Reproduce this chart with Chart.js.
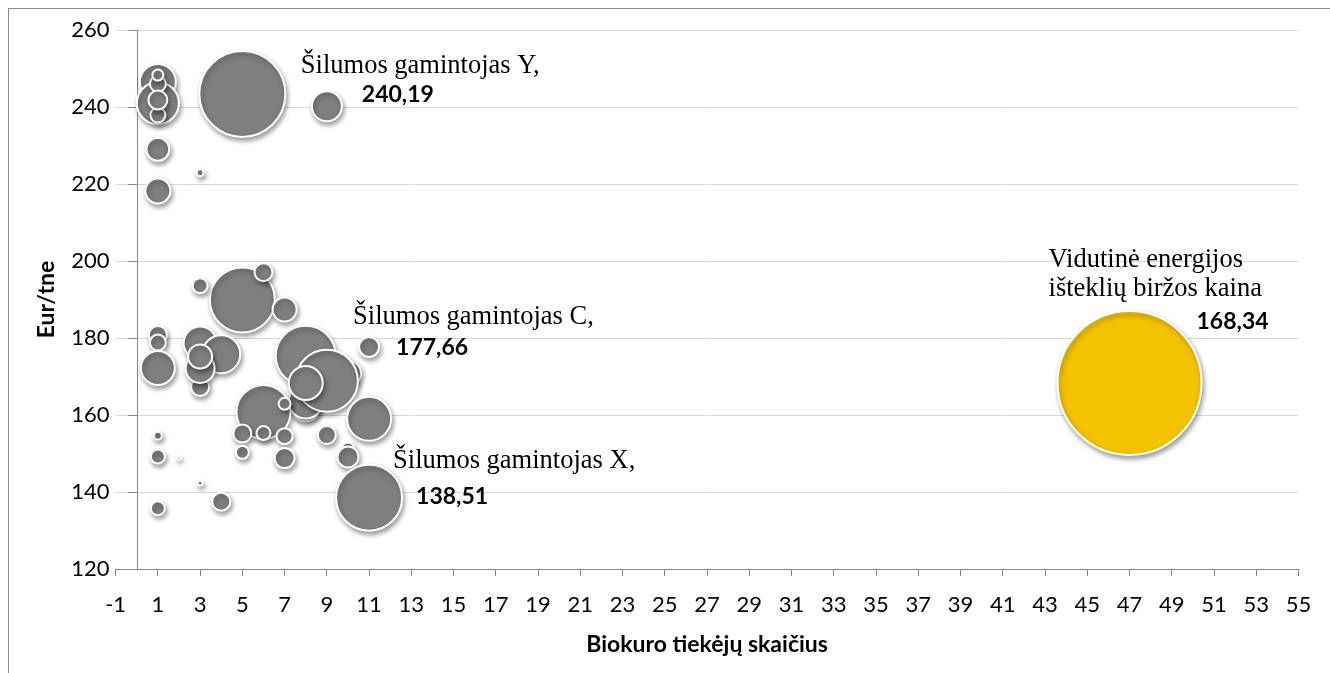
<!DOCTYPE html>
<html><head><meta charset="utf-8">
<script src="https://cdn.jsdelivr.net/npm/chart.js@4.4.1/dist/chart.umd.min.js"></script>
<style>
html,body{margin:0;padding:0;background:#fff;overflow:hidden;}
#wrap{position:relative;width:1330px;height:673px;overflow:hidden;}
#frame{position:absolute;left:8px;top:8px;width:1400px;height:800px;border:1px solid #8c8c8c;}
canvas{position:absolute;left:0;top:0;}
</style></head><body>
<div id="wrap"><div id="frame"></div><canvas id="c" width="1330" height="673"></canvas></div>
<script>
// ---- data ----
const supplierCounts = [1,1,1,1,1,1,1,1,3,5,9,5,6,3,7,1,1,1,3,4,3,3,3,10,8,8,8,9,8,6,7,11,11,5,6,7,9,5,7,10,10,1,1,2,3,4,1,11];
const pricesEurPerTonne = [246.5,241.0,246.0,248.3,237.9,241.8,229.0,218.2,222.9,243.4,240.19,189.9,197.1,193.6,187.4,180.8,178.8,172.2,178.7,175.8,167.3,172.1,175.2,170.8,175.4,162.0,163.5,168.9,168.3,160.8,162.9,159.0,177.66,155.2,155.3,154.5,154.8,150.3,148.8,151.2,149.1,154.6,149.2,148.8,142.3,137.5,135.8,138.51];
const purchaseVolumes = [32.4,44.1,6.4,3.0,5.6,9.0,13.2,15.6,1.2,184.9,22.5,105.6,8.1,5.6,14.4,8.1,6.4,28.9,27.2,36.1,8.1,21.0,14.4,16.9,90.0,19.6,28.9,96.1,28.9,72.9,3.6,48.4,10.0,8.1,4.9,6.4,8.1,4.2,10.0,4.2,11.0,1.6,4.9,0.3,0.6,8.1,4.9,108.9];
const exchangeCount = [47];
const exchangePrice = [168.34];
const exchangeVolume = [518.4];
const xMin = -1, xMax = 55, xStep = 2;
const yMin = 120, yMax = 260, yStep = 20;
const yAxisCrossesAt = 0;
const labelY = { index: 10, name: ["Šilumos gamintojas Y,"] };
const labelC = { index: 32, name: ["Šilumos gamintojas C,"] };
const labelX = { index: 47, name: ["Šilumos gamintojas X,"] };
const labelExchange = { name: ["Vidutinė energijos", "išteklių biržos kaina"] };
const xTitle = "Biokuro tiekėjų skaičius";
const yTitle = "Eur/tne";

// ---- chart ----
const MAX_R = 72;
const maxVol = Math.max(...exchangeVolume, ...purchaseVolumes);
const toRadius = v => MAX_R * Math.sqrt(v / maxVol);

const grayData = supplierCounts.map((x, i) => ({x, y: pricesEurPerTonne[i], r: toRadius(purchaseVolumes[i])}));
const yellowData = exchangeCount.map((x, i) => ({x, y: exchangePrice[i], r: toRadius(exchangeVolume[i])}));

const SANS = "Lato, 'Open Sans', sans-serif";
const SERIF = "'Liberation Serif', 'DejaVu Serif', serif";
const AXIS_COLOR = '#868686';

const shadowPlugin = {
  id: 'shadow',
  beforeDatasetsDraw(chart) {
    const ctx = chart.ctx;
    ctx.save();
    ctx.shadowColor = 'rgba(0,0,0,0.38)';
    ctx.shadowBlur = 5;
    ctx.shadowOffsetX = 1.5;
    ctx.shadowOffsetY = 3;
  },
  afterDatasetsDraw(chart) { chart.ctx.restore(); }
};

// vertical axis line crossing the horizontal axis at x = 0, with outside tick marks
const crossAxisPlugin = {
  id: 'crossAxis',
  beforeDatasetsDraw(chart) {
    const ctx = chart.ctx, xs = chart.scales.x, ys = chart.scales.y, ca = chart.chartArea;
    const px = Math.round(xs.getPixelForValue(yAxisCrossesAt)) + 0.5;
    ctx.save();
    ctx.strokeStyle = AXIS_COLOR;
    ctx.lineWidth = 1;
    ctx.beginPath();
    ctx.moveTo(px, ca.top);
    ctx.lineTo(px, ca.bottom);
    ys.ticks.forEach(t => {
      const py = Math.round(ys.getPixelForValue(t.value)) + 0.5;
      ctx.moveTo(px - 9, py);
      ctx.lineTo(px, py);
    });
    ctx.stroke();
    ctx.restore();
  }
};

const fmt = v => v.toFixed(2).replace('.', ',');

const labelPlugin = {
  id: 'pointLabels',
  afterDraw(chart) {
    const ctx = chart.ctx;
    const gray = chart.getDatasetMeta(0).data;
    const yel = chart.getDatasetMeta(1).data;
    const specs = [
      {el: gray[labelY.index], names: labelY.name, value: pricesEurPerTonne[labelY.index], nx: -26, ny: [-33], vx: 35, vy: -11.5},
      {el: gray[labelC.index], names: labelC.name, value: pricesEurPerTonne[labelC.index], nx: -16, ny: [-23.5], vx: 27, vy: 1},
      {el: gray[labelX.index], names: labelX.name, value: pricesEurPerTonne[labelX.index], nx: 24, ny: [-29.5], vx: 47, vy: -1},
      {el: yel[0], names: labelExchange.name, value: exchangePrice[0], nx: -81, ny: [-116, -87.3], vx: 67, vy: -61}
    ];
    ctx.save();
    ctx.fillStyle = '#000';
    ctx.textAlign = 'left';
    specs.forEach(s => {
      ctx.font = "26.5px " + SERIF;
      ctx.textBaseline = 'alphabetic';
      s.names.forEach((t, k) => ctx.fillText(t, s.el.x + s.nx, s.el.y + s.ny[k]));
      ctx.font = "bold 23px " + SANS;
      ctx.textBaseline = 'middle';
      ctx.fillText(fmt(s.value), s.el.x + s.vx, s.el.y + s.vy);
    });
    ctx.restore();
  }
};

new Chart(document.getElementById('c'), {
  type: 'bubble',
  data: {
    datasets: [
      {data: grayData, backgroundColor: '#7f7f7f', borderColor: '#ffffff', borderWidth: 2, clip: false},
      {data: yellowData, backgroundColor: '#f3c200', borderColor: '#ffffff', borderWidth: 2, clip: false}
    ]
  },
  options: {
    responsive: false,
    animation: false,
    events: [],
    layout: {autoPadding: false, padding: {left: 10, right: 31.5, top: 30, bottom: 0}},
    plugins: {legend: {display: false}, tooltip: {enabled: false}},
    scales: {
      x: {
        type: 'linear', min: xMin, max: xMax, position: 'bottom',
        ticks: {stepSize: xStep, autoSkip: false, maxRotation: 0, padding: 15.8, color: '#000', font: {family: SANS, size: 22}},
        grid: {drawOnChartArea: false, drawTicks: true, tickLength: 7, color: AXIS_COLOR},
        border: {display: true, color: AXIS_COLOR, width: 1},
        title: {display: true, text: xTitle, color: '#000', font: {family: SANS, size: 23, weight: 'bold'}, padding: {top: 0, bottom: 14.2}},
        afterFit(s) { s.height = 104; }
      },
      y: {
        type: 'linear', min: yMin, max: yMax, position: 'left',
        ticks: {stepSize: yStep, padding: 6, color: '#000', font: {family: SANS, size: 22}},
        grid: {drawTicks: false, color: '#d9d9d9', lineWidth: 1},
        border: {display: false},
        title: {display: true, text: yTitle, color: '#000', font: {family: SANS, size: 23, weight: 'bold'}, padding: {top: 23.2, bottom: 0}},
        afterFit(s) { s.width = 105.6; }
      }
    }
  },
  plugins: [crossAxisPlugin, shadowPlugin, labelPlugin]
});
</script>
</body></html>
